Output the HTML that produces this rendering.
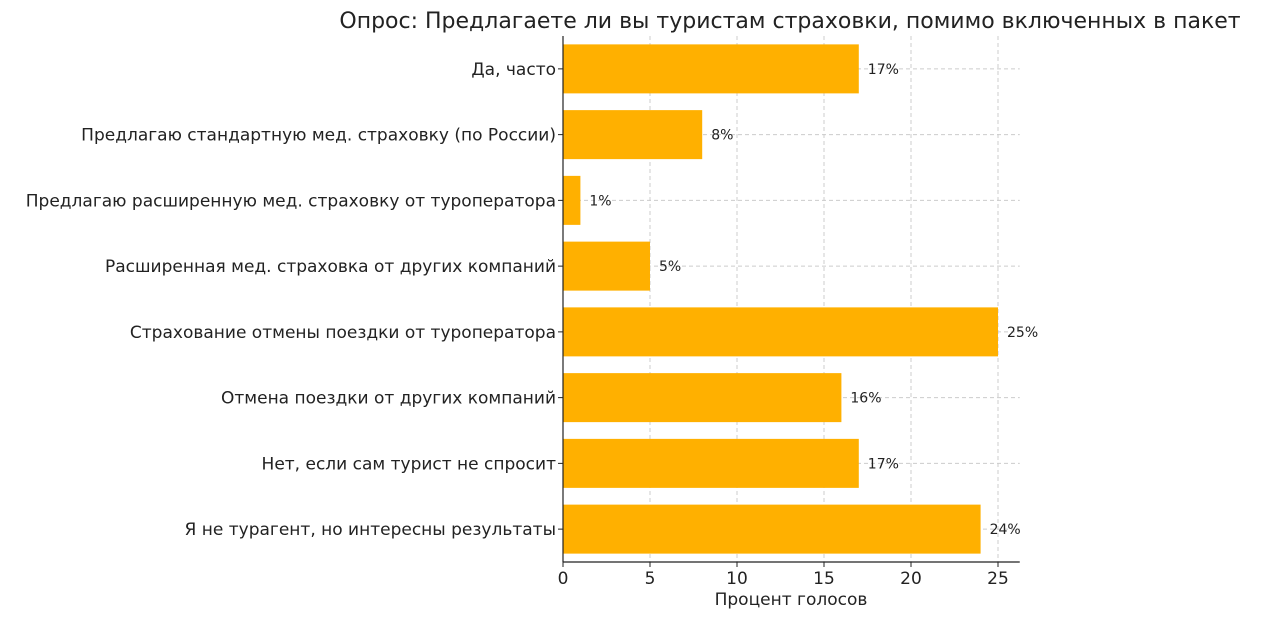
<!DOCTYPE html>
<html><head><meta charset="utf-8">
<style>
body{margin:0;background:#fff;}
svg text{font-family:"DejaVu Sans","Liberation Sans",sans-serif;fill:#222;}
</style></head>
<body>
<svg id="chart" width="1280" height="619" xmlns="http://www.w3.org/2000/svg">
<text x="790" y="28" font-size="22" text-anchor="middle">Опрос: Предлагаете ли вы туристам страховки, помимо включенных в пакет</text>
<g id="grid"></g><g id="bars"></g><g id="axes"></g>
<text x="791" y="605" font-size="17" text-anchor="middle">Процент голосов</text>
</svg>
<script>
const categories=["Да, часто","Предлагаю стандартную мед. страховку (по России)","Предлагаю расширенную мед. страховку от туроператора","Расширенная мед. страховка от других компаний","Страхование отмены поездки от туроператора","Отмена поездки от других компаний","Нет, если сам турист не спросит","Я не турагент, но интересны результаты"];
const values=[17,8,1,5,25,16,17,24];
const ticks=[0,5,10,15,20,25];
const NS="http://www.w3.org/2000/svg";
const x0=563,pxPer=17.4,top0=36,bottom=562,xMax=26.25;
const xs=v=>x0+v*pxPer;
const step=(bottom-top0)/categories.length;
const yc=i=>top0+step*(i+0.5);
function mk(tag,attrs,parent){const e=document.createElementNS(NS,tag);for(const k in attrs)e.setAttribute(k,attrs[k]);parent.appendChild(e);return e;}
const grid=document.getElementById('grid'),bars=document.getElementById('bars'),axes=document.getElementById('axes');
ticks.forEach(t=>{
 const l=mk('line',{x1:xs(t),x2:xs(t),y1:top0,y2:bottom,stroke:'#ccc','stroke-dasharray':'4,3'},grid);
 
 
 const tk=mk('line',{x1:xs(t),x2:xs(t),y1:bottom,y2:bottom+5,stroke:'#222'},axes);
 
 
 const tx=mk('text',{x:xs(t),y:bottom+22,'font-size':17,'text-anchor':'middle'},axes);
 tx.textContent=t;
 
 
});
categories.forEach((c,i)=>{
 const y=yc(i);
 const g=mk('line',{x1:x0,x2:xs(xMax),y1:y,y2:y,stroke:'#ccc','stroke-dasharray':'4,3'},grid);
 
 
 const r=mk('rect',{x:x0,y:y-24.5,width:values[i]*pxPer,height:49,fill:'#FFB000'},bars);
 
 
 const v=mk('text',{x:xs(values[i])+9,y:y+5,'font-size':14},bars);
 v.textContent=values[i]+'%';
 
 
 const tk=mk('line',{x1:x0-5,x2:x0,y1:y,y2:y,stroke:'#222'},axes);
 
 
 const lb=mk('text',{x:x0-7,y:y+6,'font-size':17,'text-anchor':'end'},axes);
 lb.textContent=c;
 
 
});
const ay=mk('line',{x1:x0,x2:x0,y1:top0,y2:bottom,stroke:'#222','stroke-width':1.2},axes);


const ax=mk('line',{x1:x0,x2:xs(xMax),y1:bottom,y2:bottom,stroke:'#222','stroke-width':1.2},axes);


</script>
</body></html>
